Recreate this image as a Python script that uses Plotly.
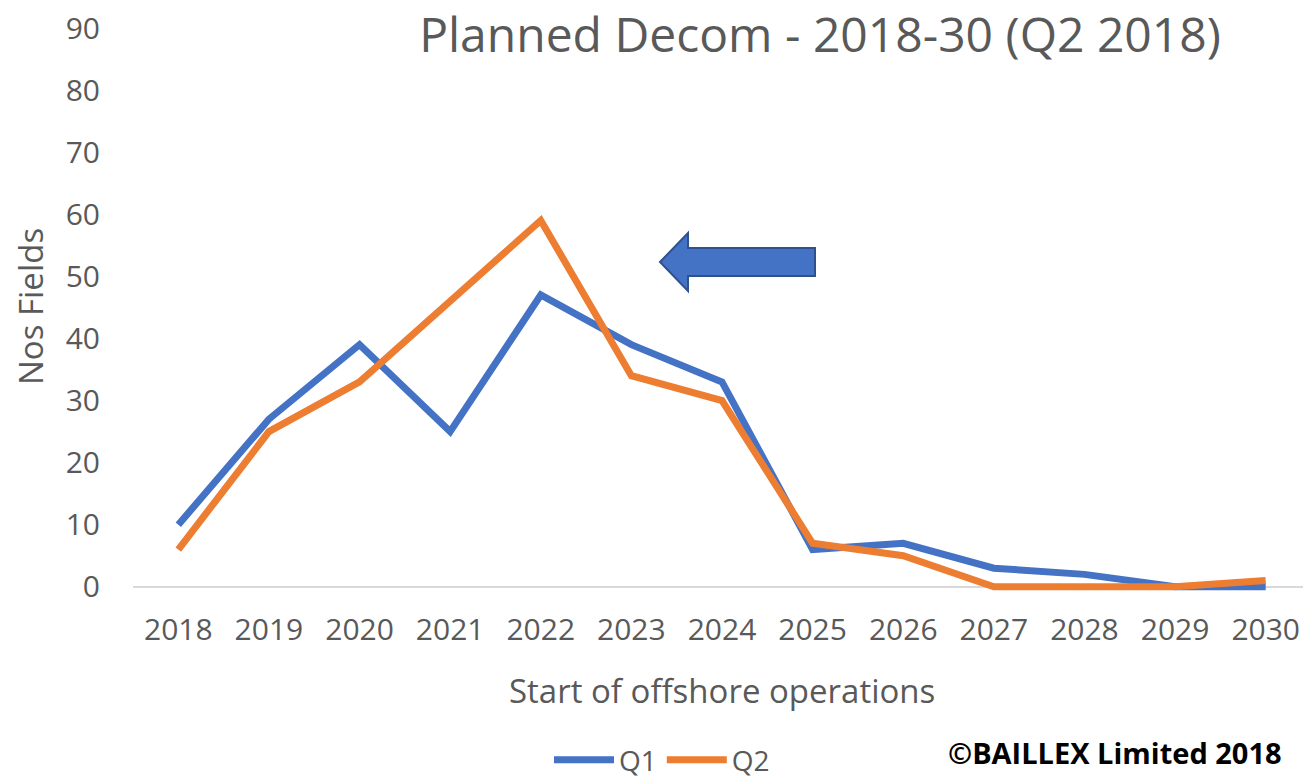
import plotly.graph_objects as go

years = [2018, 2019, 2020, 2021, 2022, 2023, 2024, 2025, 2026, 2027, 2028, 2029, 2030]
q1 = [10, 27, 39, 25, 47, 39, 33, 6, 7, 3, 2, 0, 0]
q2 = [6, 25, 33, 46, 59, 34, 30, 7, 5, 0, 0, 0, 1]
y_ticks = list(range(0, 100, 10))

# page body has an 8px default margin; compensate so the picture lines up
OFF = 8
W, H = 1311 - OFF, 776 - OFF
L, R, T, B = 133 - OFF, 0, 28 - OFF, 183
PW, PH = W - L - R, H - T - B

def px(x):
    return (x - OFF - L) / PW

def py(y):
    return (H - B - (y - OFF)) / PH

GRAY = "#595959"
FONT = "Open Sans"

fig = go.Figure()
fig.add_trace(go.Scatter(x=years, y=q1, mode="lines", name="Q1",
                         line=dict(color="#4472C4", width=7)))
fig.add_trace(go.Scatter(x=years, y=q2, mode="lines", name="Q2",
                         line=dict(color="#ED7D31", width=7)))

# arrow shape (pixel outline converted to paper coords)
pts = [(660, 262), (688, 233), (688, 248), (815, 248), (815, 276), (688, 276), (688, 291)]
path = "M " + " L ".join(f"{px(x):.5f},{py(y):.5f}" for x, y in pts) + " Z"
fig.add_shape(type="path", xref="paper", yref="paper", path=path,
              fillcolor="#4472C4", line=dict(color="#2F528F", width=2))

fig.update_layout(
    width=W, height=H,
    margin=dict(l=L, r=R, t=T, b=B, autoexpand=False),
    paper_bgcolor="white", plot_bgcolor="white",
    font=dict(family=FONT, color=GRAY),
    title=dict(text="Planned Decom - 2018-30 (Q2 2018)", x=px(820), xref="paper",
               xanchor="center", y=py(35), yref="paper", yanchor="middle",
               font=dict(size=48, color=GRAY, family=FONT)),
    xaxis=dict(range=[2017.5, 2030.5], tickvals=years, showgrid=False, zeroline=False,
               showline=False, ticks="", tickfont=dict(size=30, color=GRAY),
               ticklabelstandoff=16, automargin=False, ticklabeloverflow="allow"),
    yaxis=dict(range=[-1, 90], tickvals=y_ticks, showgrid=False, zeroline=True,
               zerolinecolor="#d9d9d9", zerolinewidth=2, showline=False, ticks="",
               tickfont=dict(size=30, color=GRAY), ticklabelstandoff=32, automargin=False,
               ticklabeloverflow="allow"),
    showlegend=True,
    legend=dict(orientation="h", x=px(662), xanchor="center", y=py(760),
                yanchor="middle", font=dict(size=28, color=GRAY),
                itemwidth=60),
)

fig.add_annotation(text="Start of offshore operations", xref="paper", yref="paper",
                   x=px(722), y=py(690), xanchor="center", yanchor="middle",
                   showarrow=False, font=dict(size=33, color=GRAY))
fig.add_annotation(text="Nos Fields", xref="paper", yref="paper",
                   x=px(30), y=py(306), xanchor="center", yanchor="middle",
                   showarrow=False, textangle=-90,
                   font=dict(size=33, color=GRAY))
fig.add_annotation(text="<b>©BAILLEX Limited 2018</b>", xref="paper", yref="paper",
                   x=px(1115), y=py(752), xanchor="center", yanchor="middle",
                   showarrow=False, font=dict(size=29, color="black"))

fig.write_html("out.html")
